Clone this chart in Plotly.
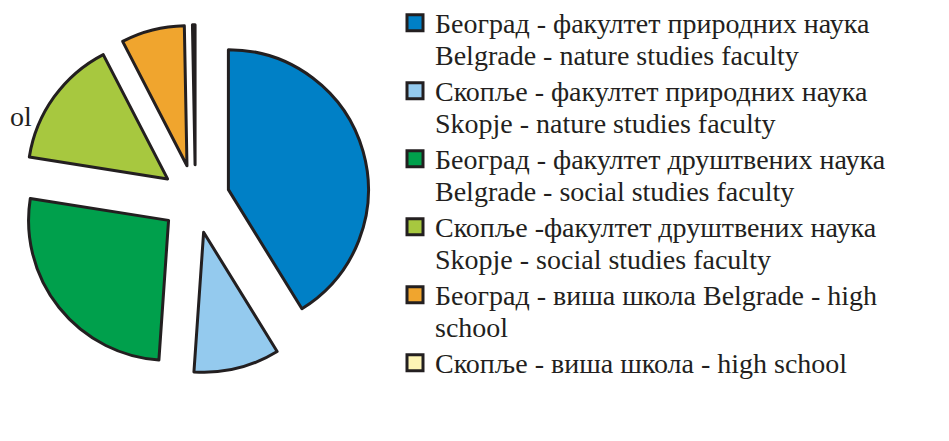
import plotly.graph_objects as go

# ---- data -------------------------------------------------------------
categories = [
    "Београд - факултет природних наука",
    "Скопље - факултет природних наука",
    "Београд - факултет друштвених наука",
    "Скопље -факултет друштвених наука",
    "Београд - виша школа",
    "Скопље - виша школа",
]
legend_line1 = [
    "Београд - факултет природних наука",
    "Скопље - факултет природних наука",
    "Београд - факултет друштвених наука",
    "Скопље -факултет друштвених наука",
    "Београд - виша школа Belgrade - high",
    "Скопље - виша школа - high school",
]
legend_line2 = [
    "Belgrade - nature studies faculty",
    "Skopje - nature studies faculty",
    "Belgrade - social studies faculty",
    "Skopje - social studies faculty",
    "school",
    "",
]
values = [41.2, 9.9, 26.4, 14.9, 7.3, 0.3]
colors = ["#0080c6", "#94caee", "#00a04c", "#a7c83f", "#f0a52e", "#fdf4b5"]
side_text = "ol"

# ---- styling / layout constants --------------------------------------
# the page body adds an 8 px margin, so the figure is drawn 8 px in
PAGE_OFF = 8
W, H = 949 - PAGE_OFF, 441 - PAGE_OFF
OUTLINE = "#231f20"
FONT = "Liberation Serif, Times New Roman, serif"
TEXT_PX = 28
cx, cy, r, pull = 195.4 - PAGE_OFF, 199.0 - PAGE_OFF, 140.0, 0.245
box = 2 * r * (1 + pull)
dom_x = [(cx - box / 2) / W, (cx + box / 2) / W]
dom_y = [1 - (cy + box / 2) / H, 1 - (cy - box / 2) / H]


def span(t):
    return f'<span style="font-size:{TEXT_PX}px">{t}</span>'


fig = go.Figure()
fig.add_trace(go.Pie(
    labels=categories,
    values=values,
    sort=False,
    direction="clockwise",
    rotation=0,
    pull=pull,
    textinfo="none",
    hoverinfo="label+percent",
    marker=dict(colors=colors, line=dict(color=OUTLINE, width=3)),
    domain=dict(x=dom_x, y=dom_y),
    showlegend=False,
))

for c, l1, l2 in zip(colors, legend_line1, legend_line2):
    name = span(l1) + ("<br>" + span(l2) if l2 else "")
    fig.add_trace(go.Scatter(
        x=[None], y=[None], mode="markers", name=name, hoverinfo="skip",
        marker=dict(symbol="square", size=16, color=c,
                    line=dict(color=OUTLINE, width=3)),
    ))

fig.add_annotation(
    text=side_text, xref="paper", yref="paper", x=0, y=1 - 108 / H,
    xanchor="left", yanchor="middle", showarrow=False,
    font=dict(family=FONT, size=TEXT_PX, color=OUTLINE),
)

fig.update_layout(
    width=W, height=H,
    margin=dict(l=0, r=0, t=0, b=0, pad=0, autoexpand=False),
    paper_bgcolor="white", plot_bgcolor="white",
    xaxis=dict(visible=False), yaxis=dict(visible=False),
    legend=dict(
        x=387 / W, y=1 + 8 / H, xanchor="left", yanchor="top",
        font=dict(family=FONT, size=25, color=OUTLINE),
        valign="top", bgcolor="rgba(0,0,0,0)", borderwidth=0,
        tracegroupgap=0, itemclick=False, itemdoubleclick=False,
        maxheight=1000,
    ),
)

fig.write_html("out.html")
